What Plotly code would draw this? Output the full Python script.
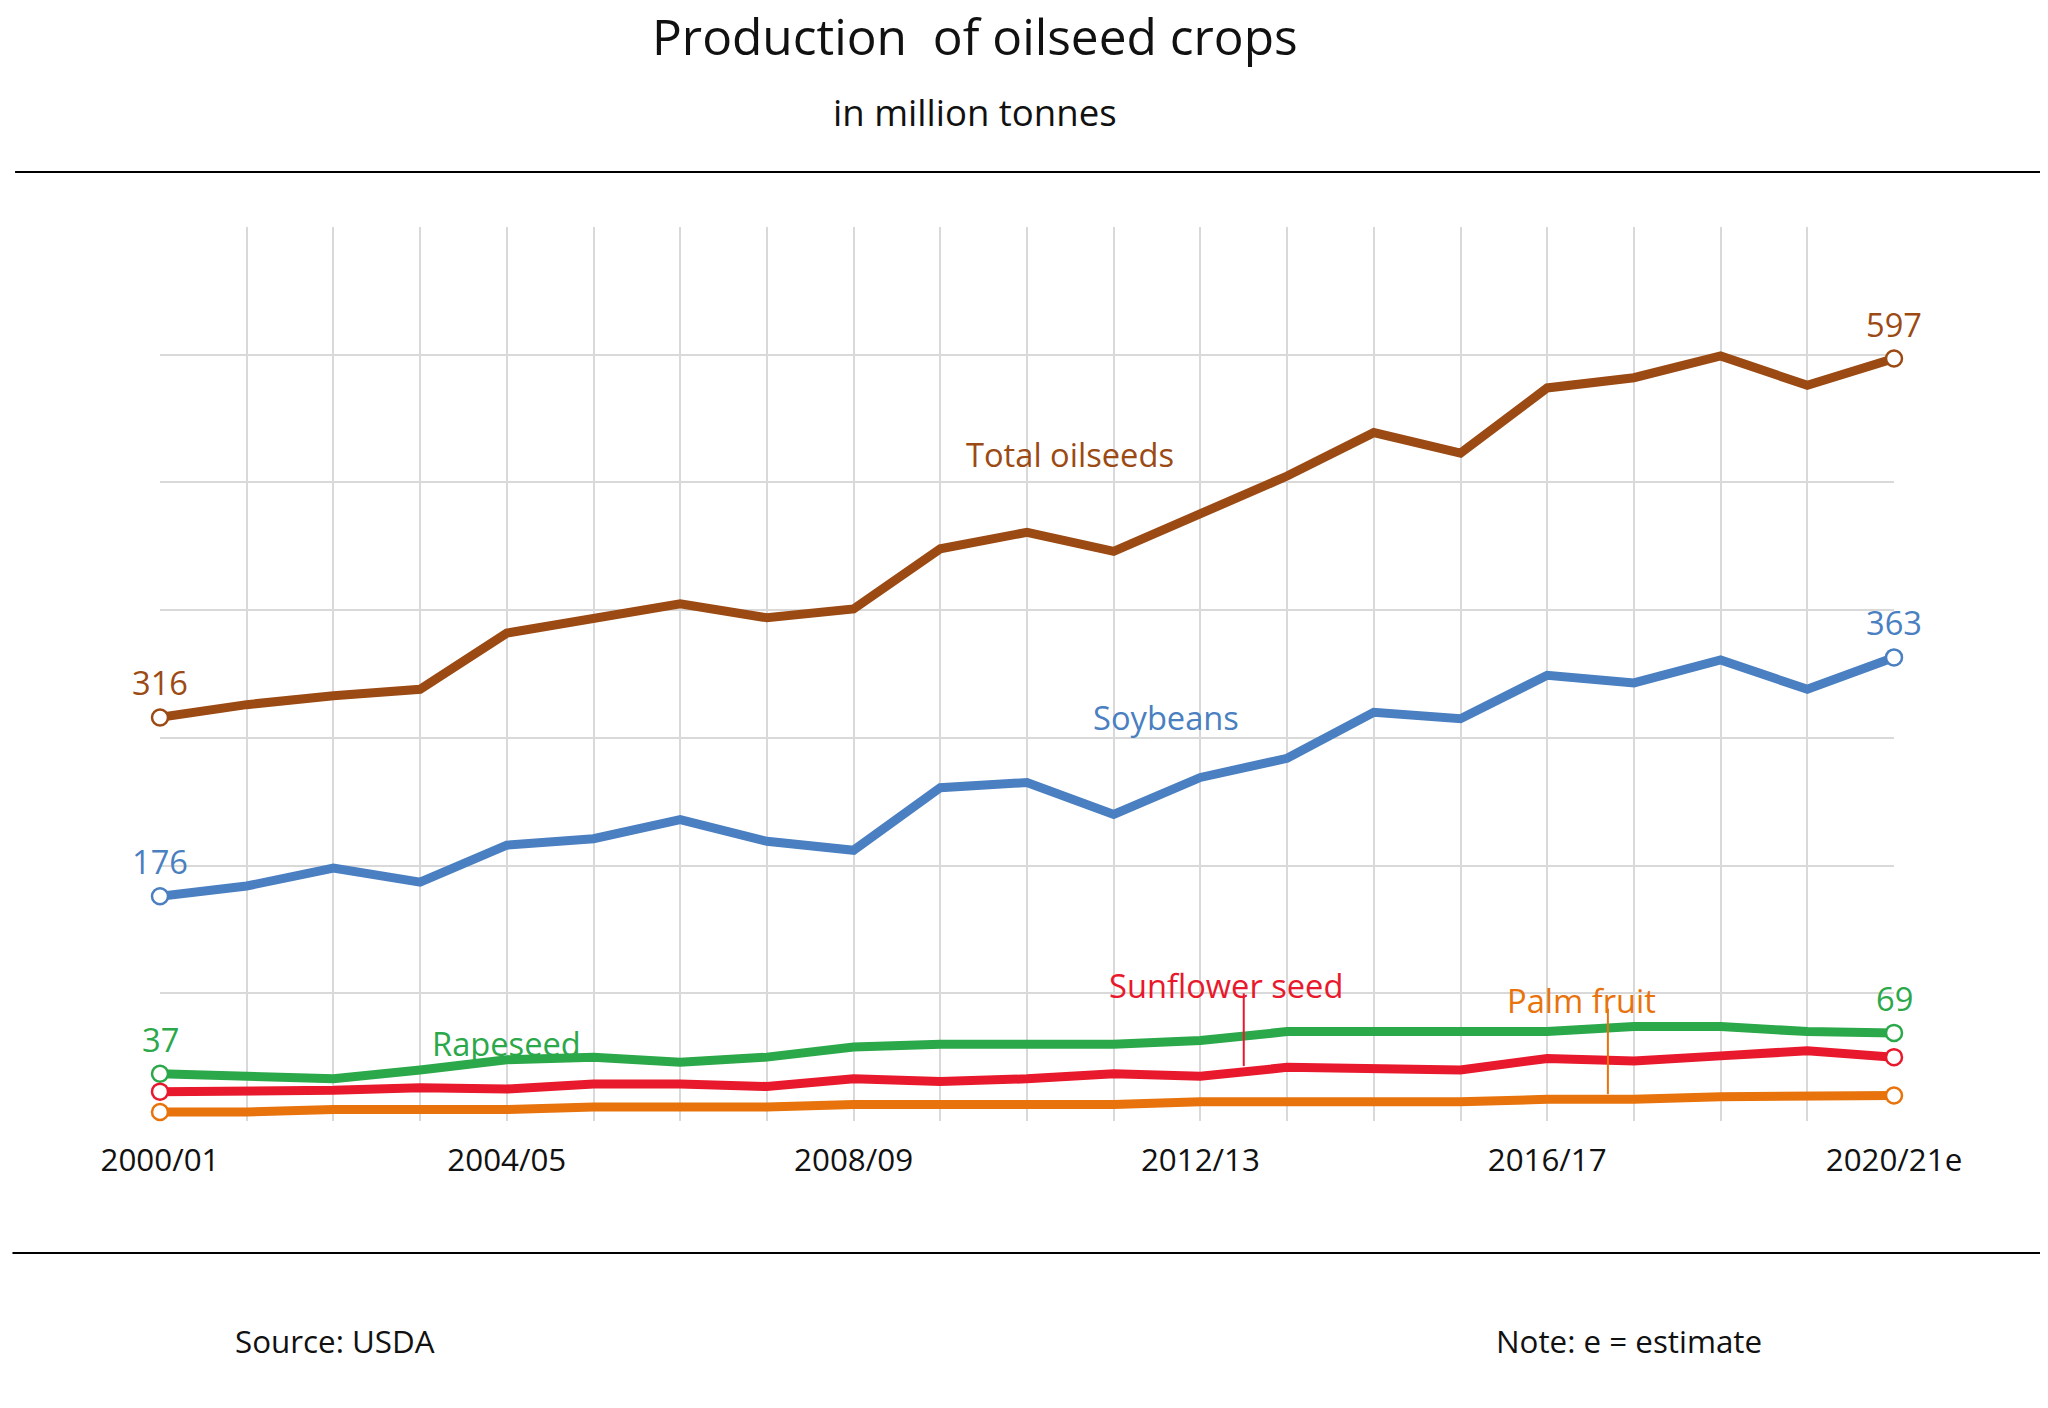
import plotly.graph_objects as go

years = [f"{y}/{(y+1)%100:02d}" for y in range(2000, 2021)]
tick_labels = ["2000/01", "2004/05", "2008/09", "2012/13", "2016/17", "2020/21e"]
total = [316,326,333,338,382,393,405,394,401,448,461,446,476,505,539,523,574,582,599,576,597]
soy = [176,184,198,187,216,221,236,219,212,261,265,240,269,284,320,315,349,343,361,338,363]
rape = [37,35,33,40,48,50,46,50,58,60,60,60,63,70,70,70,70,74,74,70,69]
sun = [23,23,24,26,25,29,29,27,33,31,33,37,35,42,41,40,49,47,51,55,50]
palm = [7,7,9,9,9,11,11,11,13,13,13,13,15,15,15,15,17,17,19,19,20]

s = 2048/1568
F = "Open Sans"
series = [("Total oilseeds", total, "#9C4A14"), ("Soybeans", soy, "#4A7FC1"),
          ("Rapeseed", rape, "#2BA84A"), ("Sunflower seed", sun, "#E8192C"),
          ("Palm fruit", palm, "#E8730C")]
x = list(range(len(years)))
fig = go.Figure()
for name, v, c in series:
    fig.add_trace(go.Scatter(x=x, y=v, mode="lines", line=dict(color=c, width=9), name=name, cliponaxis=False))
for name, v, c in series:
    fig.add_trace(go.Scatter(x=[0, 20], y=[v[0], v[-1]], mode="markers", cliponaxis=False,
                             marker=dict(size=16, color="white", line=dict(color=c, width=2.5))))

LS = 25*s
ann = []
def A(xx, yy, t, c, xa="center"):
    ann.append(dict(x=xx, y=yy, text=t, showarrow=False, font=dict(family=F, size=LS, color=c), xanchor=xa))
cT, cS, cR, cU, cP = [c for _, _, c in series]
A(0, 343, "316", cT); A(20, 624, "597", cT); A(10.5, 522, "Total oilseeds", cT)
A(0, 203, "176", cS); A(20, 390, "363", cS); A(11.6, 316, "Soybeans", cS)
A(0, 64, "37", cR); A(20, 96, "69", cR); A(4, 61, "Rapeseed", cR)
A(-0.35, 23, "23", cU, xa="right"); A(20.35, 49, "50", cU, xa="left"); A(12.3, 106, "Sunflower seed", cU)
A(-0.35, 6, "7", cP, xa="right"); A(20.35, 19, "20", cP, xa="left"); A(16.4, 94, "Palm fruit", cP)

W, H = 2048, 1408
ml, mr, mt, mb = 116*s, 124*s, 168*s, 226*s
pw, ph = W-ml-mr, H-mt-mb
def px2paper_x(px): return (px*s - ml)/pw
def px2paper_y(py): return (H - mb - py*s)/ph
def P(px, py, t, size, xa="center"):
    ann.append(dict(x=px2paper_x(px), y=px2paper_y(py), xref="paper", yref="paper", text=t, showarrow=False,
                    xanchor=xa, yanchor="middle", font=dict(family=F, size=size*s, color="#111")))
P(740, 22, "Production  of oilseed crops", 38)
P(740, 80, "in million tonnes", 28)
P(172, 1020, "Source: USDA", 24, "left")
P(1138, 1020, "Note: e = estimate", 24, "left")

shapes = []
for y0, x0 in [(126, 5), (953, 3)]:
    shapes.append(dict(type="line", xref="paper", yref="paper", x0=px2paper_x(x0), x1=px2paper_x(1565),
                       y0=px2paper_y(y0), y1=px2paper_y(y0), line=dict(color="black", width=2)))
shapes += [
    dict(type="line", x0=12.5, x1=12.5, y0=43, y1=100, line=dict(color=cU, width=2)),
    dict(type="line", x0=16.7, x1=16.7, y0=21, y1=88, line=dict(color=cP, width=2)),
]

fig.update_layout(width=W, height=H, showlegend=False, plot_bgcolor="white", paper_bgcolor="white",
                  margin=dict(l=ml, r=mr, t=mt, b=mb), annotations=ann, shapes=shapes)
fig.update_xaxes(range=[0, 20], tickvals=[0,4,8,12,16,20], ticktext=tick_labels, showgrid=True,
                 gridcolor="#D9D9D9", gridwidth=2, zeroline=False, showline=False, ticks="",
                 tickfont=dict(family=F, size=24*s, color="#111"), ticklabelstandoff=18,
                 minor=dict(dtick=1, showgrid=True, gridcolor="#D9D9D9", gridwidth=2))
fig.update_yaxes(range=[0, 700], dtick=100, showticklabels=False, gridcolor="#D9D9D9", gridwidth=2,
                 zeroline=False, showline=False)
fig.write_html("out.html")
